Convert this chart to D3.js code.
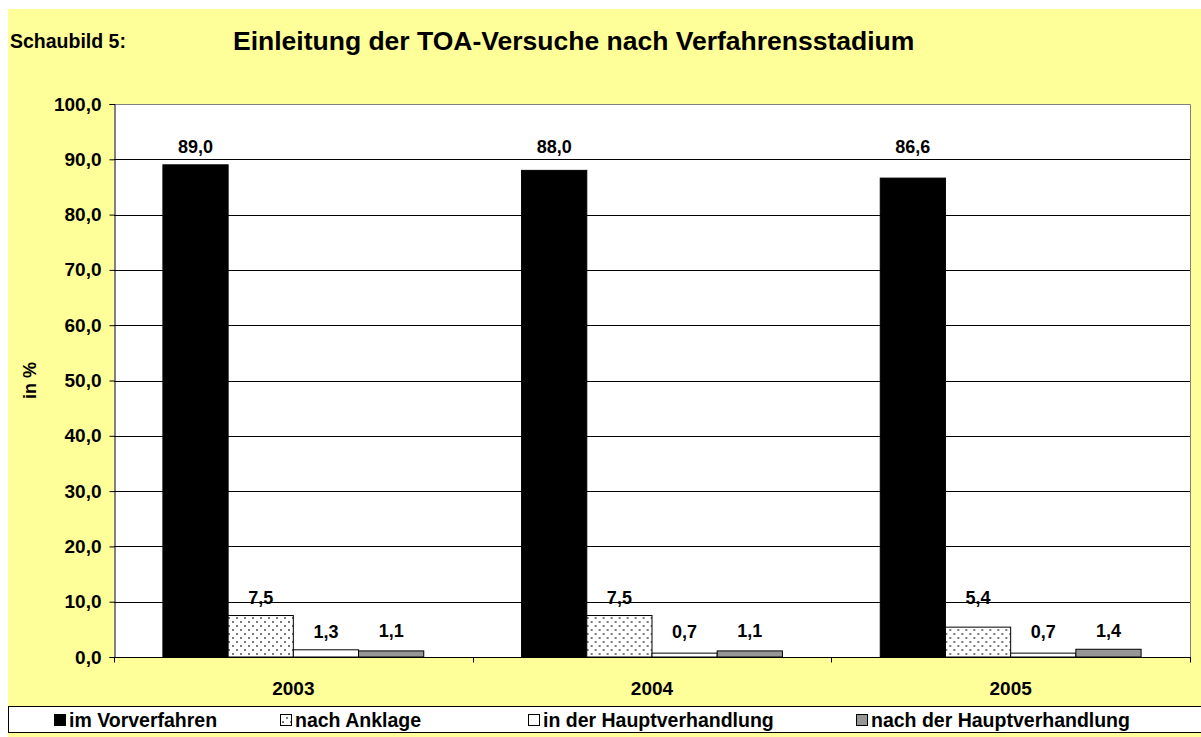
<!DOCTYPE html>
<html>
<head>
<meta charset="utf-8">
<script src="https://cdn.jsdelivr.net/npm/d3@7"></script>
<style>
  body { margin: 0; background: #fff; }
  svg { display: block; font-family: "Liberation Sans", Arial, sans-serif; font-weight: bold; }
</style>
</head>
<body>
<svg width="1201" height="737"></svg>
<script>
// data
var years = ['2003', '2004', '2005'];
var series = ['im Vorverfahren', 'nach Anklage', 'in der Hauptverhandlung', 'nach der Hauptverhandlung'];
var vorverfahren = [89.0, 88.0, 86.6];
var anklage = [7.5, 7.5, 5.4];
var inHaupt = [1.3, 0.7, 0.7];
var nachHaupt = [1.1, 1.1, 1.4];
var yTicks = [0, 10, 20, 30, 40, 50, 60, 70, 80, 90, 100];

var values = [vorverfahren, anklage, inHaupt, nachHaupt];
var fills = ['#000000', 'url(#dots)', '#ffffff', '#969696'];

var svg = d3.select('svg');

// pattern for "nach Anklage"
var pat = svg.append('defs').append('pattern')
  .attr('id', 'dots')
  .attr('patternUnits', 'userSpaceOnUse')
  .attr('width', 8).attr('height', 8);
pat.append('rect').attr('width', 8).attr('height', 8).attr('fill', '#fff');
pat.append('rect').attr('x', 2).attr('y', 1).attr('width', 2).attr('height', 2).attr('fill', '#7a7a7a');
pat.append('rect').attr('x', 6).attr('y', 5).attr('width', 2).attr('height', 2).attr('fill', '#7a7a7a');

// background
svg.append('rect').attr('x', 8).attr('y', 9).attr('width', 1201).attr('height', 737).attr('fill', '#ffff99');

svg.append('text').attr('x', 10).attr('y', 48).style('font-size', '19.5px').text('Schaubild 5:');
svg.append('text').attr('x', 233).attr('y', 50).style('font-size', '26.5px')
  .text('Einleitung der TOA-Versuche nach Verfahrensstadium');

var pLeft = 114, pRight = 1190, pTop = 104, pBottom = 657;

var x = d3.scaleBand().domain(years).range([pLeft, pRight]).paddingInner(0).paddingOuter(0);
var xs = d3.scaleBand().domain(series).range([0, x.bandwidth()]).paddingInner(0).paddingOuter(0.75);
var y = d3.scaleLinear().domain([0, 100]).range([pBottom, pTop]);

// plot area
svg.append('rect').attr('x', pLeft).attr('y', pTop).attr('width', pRight - pLeft).attr('height', pBottom - pTop)
  .attr('fill', '#fff');
svg.append('path').attr('d', 'M' + pLeft + ',' + (pTop + 0.5) + 'H' + (pRight + 0.5) + 'V' + pBottom)
  .attr('fill', 'none').attr('stroke', '#808080');

// gridlines
svg.append('g').selectAll('line').data(yTicks.filter(function(d) { return d > 0 && d < 100; }))
  .enter().append('line')
  .attr('x1', pLeft).attr('x2', pRight)
  .attr('y1', function(d) { return Math.round(y(d)) + 0.5; })
  .attr('y2', function(d) { return Math.round(y(d)) + 0.5; })
  .attr('stroke', '#000').attr('stroke-width', 1);

// bars
var groups = svg.append('g').selectAll('g').data(years).enter().append('g')
  .attr('transform', function(d) { return 'translate(' + x(d) + ',0)'; });

groups.selectAll('rect').data(function(d, i) {
    return series.map(function(s, j) { return { s: s, v: values[j][i], j: j }; });
  })
  .enter().append('rect')
  .attr('x', function(d) { return xs(d.s); })
  .attr('y', function(d) { return y(d.v); })
  .attr('width', xs.bandwidth())
  .attr('height', function(d) { return pBottom - y(d.v); })
  .attr('fill', function(d) { return fills[d.j]; })
  .attr('stroke', '#000').attr('stroke-width', 1);

// labels of one series sit on one line, above its tallest bar
groups.selectAll('text').data(function(d, i) {
    return series.map(function(s, j) { return { s: s, v: values[j][i], m: d3.max(values[j]) }; });
  })
  .enter().append('text')
  .attr('x', function(d) { return xs(d.s) + xs.bandwidth() / 2; })
  .attr('y', function(d) { return y(d.m) - 12; })
  .attr('text-anchor', 'middle')
  .style('font-size', '18px')
  .text(function(d) { return d.v.toFixed(1).replace('.', ','); });

// y axis
var yAxis = svg.append('g').attr('transform', 'translate(' + (pLeft + 0.5) + ',0)')
  .call(d3.axisLeft(y).tickValues(yTicks).tickSize(5).tickPadding(8)
    .tickFormat(function(d) { return d.toFixed(1).replace('.', ','); }));
yAxis.selectAll('text').style('font-size', '19px').style('font-family', 'Liberation Sans, Arial, sans-serif')
  .style('font-weight', 'bold').attr('fill', '#000');
yAxis.select('.domain').attr('stroke', '#000');
yAxis.selectAll('.tick line').attr('stroke', '#000');

// x axis
var xAxis = svg.append('g').attr('transform', 'translate(0,' + (pBottom + 0.5) + ')');
xAxis.append('line').attr('x1', pLeft).attr('x2', pRight + 1).attr('stroke', '#000');
xAxis.selectAll('line.tk').data([pLeft, x('2004'), x('2005'), pRight]).enter().append('line')
  .attr('class', 'tk')
  .attr('x1', function(d) { return Math.round(d) + 0.5; })
  .attr('x2', function(d) { return Math.round(d) + 0.5; })
  .attr('y1', 0).attr('y2', 5).attr('stroke', '#000');
xAxis.selectAll('text').data(years).enter().append('text')
  .attr('x', function(d) { return x(d) + x.bandwidth() / 2; })
  .attr('y', 37)
  .attr('text-anchor', 'middle')
  .style('font-size', '19px')
  .text(function(d) { return d; });

svg.append('text')
  .attr('transform', 'translate(36,' + ((pTop + pBottom) / 2) + ') rotate(-90)')
  .attr('text-anchor', 'middle')
  .style('font-size', '18px')
  .text('in %');

// legend
svg.append('rect').attr('x', 8.5).attr('y', 706.5).attr('width', 1200).attr('height', 26)
  .attr('fill', '#fff').attr('stroke', '#000');
var legX = [54, 280, 528, 856];
var leg = svg.append('g').selectAll('g').data(series).enter().append('g')
  .attr('transform', function(d, i) { return 'translate(' + legX[i] + ',0)'; });
leg.append('rect').attr('x', 0.5).attr('y', 714.5).attr('width', 11).attr('height', 11)
  .attr('fill', function(d, i) { return fills[i]; }).attr('stroke', '#000');
leg.append('text').attr('x', 15).attr('y', 727).style('font-size', '19.5px')
  .text(function(d) { return d; });
</script>
</body>
</html>
